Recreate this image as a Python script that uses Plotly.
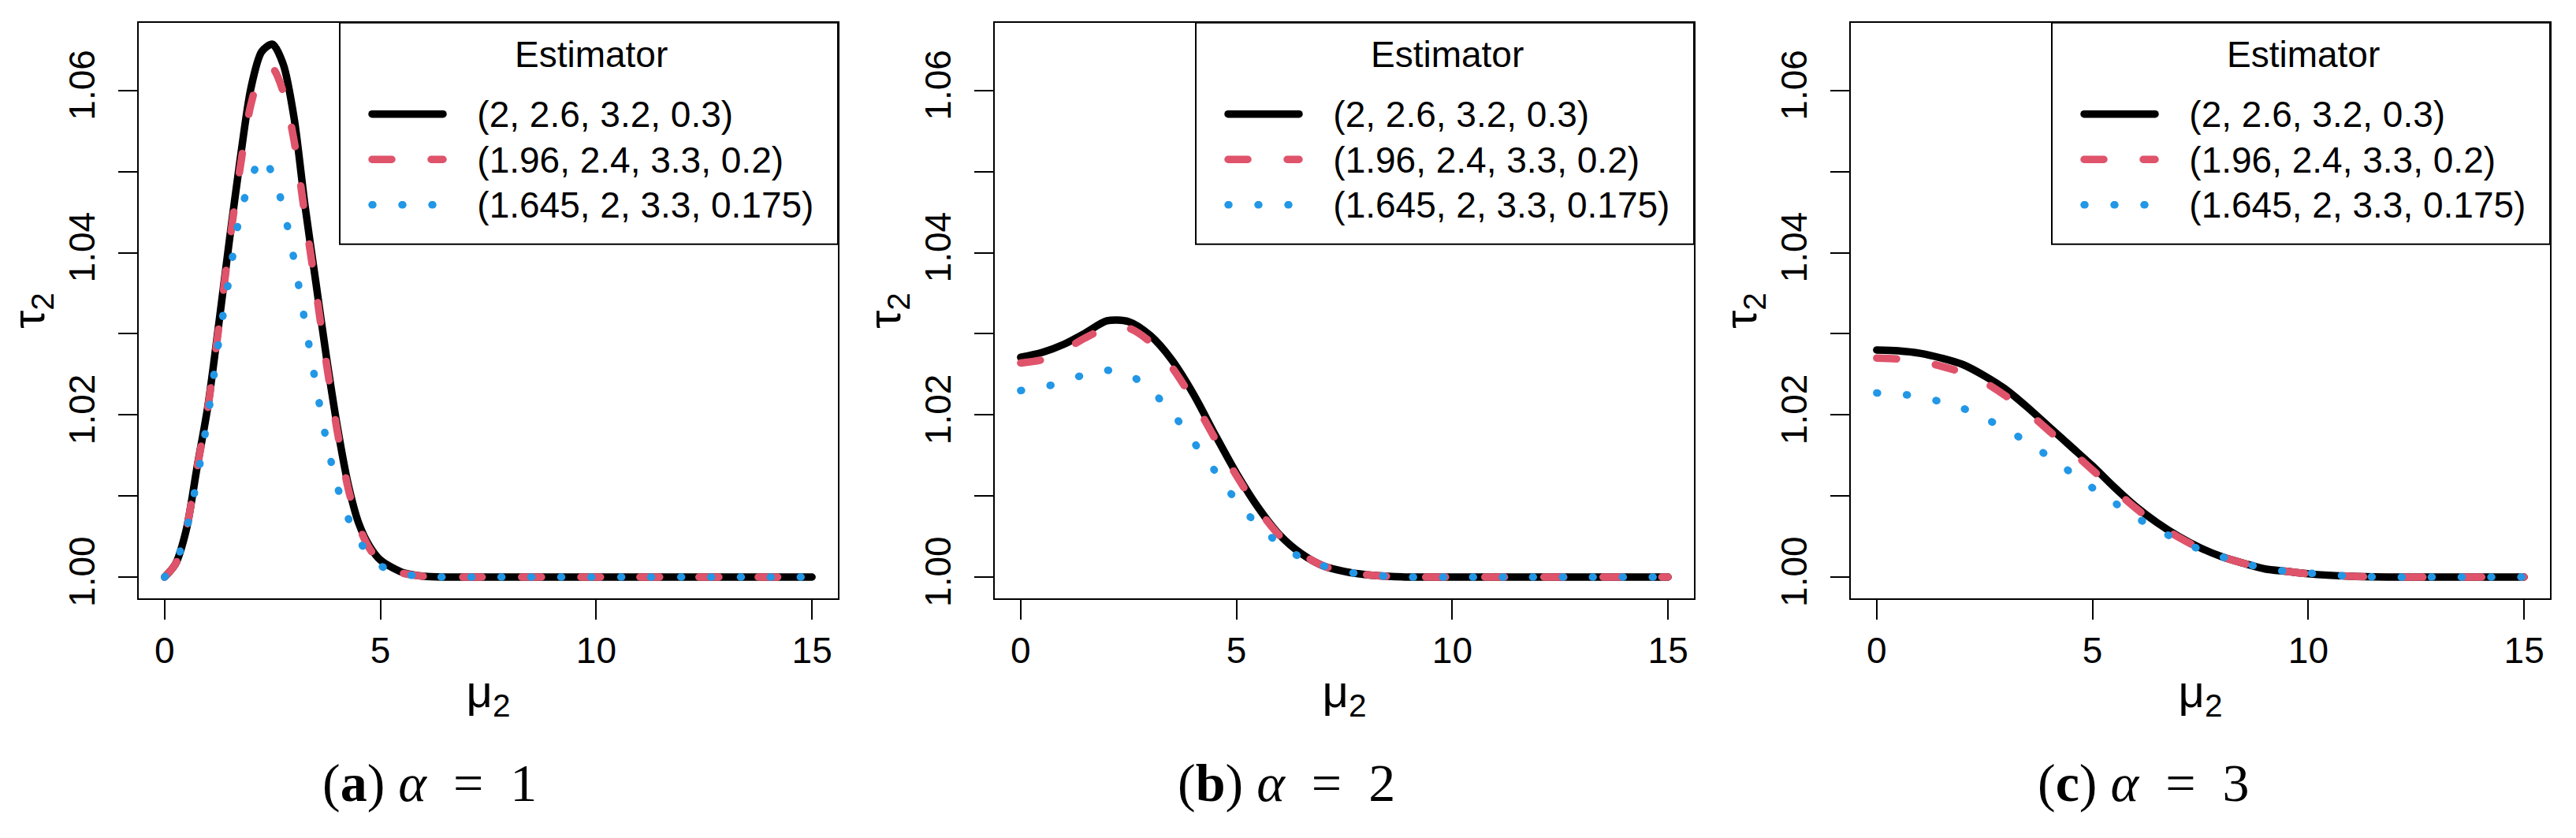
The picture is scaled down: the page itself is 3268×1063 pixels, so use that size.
import plotly.graph_objects as go

# ---------------- data ----------------
mu_a = [0, 0.25, 0.5, 0.75, 1.0, 1.25, 1.5, 1.75, 2.0, 2.25, 2.5, 2.75, 3.0, 3.25,
        3.5, 3.75, 4.0, 4.25, 4.5, 4.75, 5.0, 5.5, 6.0, 6.5, 7, 8, 9, 10, 11, 12, 13, 14, 15]
mu_bc = [0, 0.5, 1.0, 1.5, 2.0, 2.5, 3.0, 3.5, 4.0, 4.5, 5.0, 5.5, 6.0, 6.5, 7.0, 7.5,
         8.0, 8.5, 9.0, 9.5, 10, 11, 12, 13, 14, 15]

# panel (a) alpha = 1
a_black = [1.0000, 1.0016, 1.0058, 1.0135, 1.0210, 1.0310, 1.0415, 1.0515, 1.0603, 1.0648,
           1.0657, 1.0632, 1.0566, 1.0459, 1.0365, 1.0271, 1.0186, 1.0115, 1.0066, 1.0038,
           1.0021, 1.0006, 1.0001, 1.0000, 1.0000, 1.0000, 1.0000, 1.0000, 1.0000, 1.0000,
           1.0000, 1.0000, 1.0000]
a_red = [1.0000, 1.0016, 1.0058, 1.0134, 1.0208, 1.0306, 1.0410, 1.0505, 1.0583, 1.0622,
         1.0627, 1.0598, 1.0538, 1.0446, 1.0356, 1.0263, 1.0180, 1.0110, 1.0063, 1.0035,
         1.0019, 1.0005, 1.0001, 1.0000, 1.0000, 1.0000, 1.0000, 1.0000, 1.0000, 1.0000,
         1.0000, 1.0000, 1.0000]
a_blue = [1.0000, 1.0017, 1.0057, 1.0120, 1.0197, 1.0289, 1.0370, 1.0448, 1.0490, 1.0518,
          1.0497, 1.0455, 1.0391, 1.0315, 1.0239, 1.0168, 1.0112, 1.0073, 1.0046, 1.0026,
          1.0014, 1.0004, 1.0001, 1.0000, 1.0000, 1.0000, 1.0000, 1.0000, 1.0000, 1.0000,
          1.0000, 1.0000, 1.0000]

# panel (b) alpha = 2
b_black = [1.0271, 1.0277, 1.0287, 1.0301, 1.0316, 1.0315, 1.0298, 1.0268, 1.0226, 1.0176,
           1.0128, 1.0086, 1.0052, 1.0029, 1.0014, 1.0007, 1.0003, 1.0001, 1.0000, 1.0000,
           1.0000, 1.0000, 1.0000, 1.0000, 1.0000, 1.0000]
b_red = [1.0264, 1.0268, 1.0280, 1.0295, 1.0307, 1.0307, 1.0290, 1.0259, 1.0218, 1.0171,
         1.0125, 1.0084, 1.0051, 1.0029, 1.0014, 1.0007, 1.0003, 1.0001, 1.0000, 1.0000,
         1.0000, 1.0000, 1.0000, 1.0000, 1.0000, 1.0000]
b_blue = [1.0230, 1.0234, 1.0241, 1.0250, 1.0255, 1.0250, 1.0231, 1.0203, 1.0167, 1.0131,
          1.0094, 1.0064, 1.0041, 1.0024, 1.0014, 1.0007, 1.0003, 1.0001, 1.0000, 1.0000,
          1.0000, 1.0000, 1.0000, 1.0000, 1.0000, 1.0000]

# panel (c) alpha = 3
c_black = [1.0280, 1.0279, 1.0276, 1.0270, 1.0262, 1.0248, 1.0231, 1.0209, 1.0185, 1.0161,
           1.0137, 1.0111, 1.0087, 1.0067, 1.0050, 1.0036, 1.0025, 1.0017, 1.0010, 1.0007,
           1.0004, 1.0001, 1.0000, 1.0000, 1.0000, 1.0000]
c_red = [1.0270, 1.0269, 1.0266, 1.0260, 1.0252, 1.0240, 1.0223, 1.0203, 1.0180, 1.0156,
         1.0132, 1.0108, 1.0085, 1.0065, 1.0049, 1.0035, 1.0025, 1.0017, 1.0011, 1.0007,
         1.0004, 1.0001, 1.0000, 1.0000, 1.0000, 1.0000]
c_blue = [1.0227, 1.0226, 1.0222, 1.0216, 1.0208, 1.0196, 1.0182, 1.0166, 1.0148, 1.0129,
          1.0110, 1.0092, 1.0074, 1.0059, 1.0045, 1.0034, 1.0025, 1.0017, 1.0011, 1.0007,
          1.0005, 1.0001, 1.0000, 1.0000, 1.0000, 1.0000]

series_names = ["(2, 2.6, 3.2, 0.3)", "(1.96, 2.4, 3.3, 0.2)", "(1.645, 2, 3.3, 0.175)"]
captions = ["(<b>a</b>)\u00a0<i>α</i>\u00a0\u00a0=\u00a0\u00a01",
            "(<b>b</b>)\u00a0<i>α</i>\u00a0\u00a0=\u00a0\u00a02",
            "(<b>c</b>)\u00a0<i>α</i>\u00a0\u00a0=\u00a0\u00a03"]
x_ticks = [0, 5, 10, 15]
y_ticks = [1.00, 1.02, 1.04, 1.06]
y_minor = [1.01, 1.03, 1.05]
y_ticktext = ["1.00", "1.02", "1.04", "1.06"]
legend_title = "Estimator"
x_title = "μ<sub>2</sub>"
y_title = "τ<sub>2</sub>"

# ---------------- styling ----------------
W, H = 3268, 1063
SANS = "Liberation Sans, Arial, sans-serif"
SERIF = "Liberation Serif, Times New Roman, serif"
colors = ["#000000", "#DF536B", "#2297E6"]
dashes = ["solid", "25px,50px", "1px,37px"]
LW = 9.5
FS = 46          # visible text size
LEG_FS = 42      # legend row pitch driver

def px(x):
    return x / W

def py(y):
    return 1 - y / H

def legend_label(s):
    # zero-width space keeps the leading no-break spaces (gap between key and label)
    return f'<span style="font-size:{FS}px">\u200b\u00a0\u00a0\u00a0{s}</span>'

panel_left = [176, 1262, 2348]
panel_w = 887
box_top, box_bot = 29, 767

panels = [
    (mu_a, [a_black, a_red, a_blue]),
    (mu_bc, [b_black, b_red, b_blue]),
    (mu_bc, [c_black, c_red, c_blue]),
]

fig = go.Figure()
legend_keys = ["legend", "legend2", "legend3"]
for p, (xs, ys_list) in enumerate(panels):
    xa = "x" if p == 0 else f"x{p+1}"
    ya = "y" if p == 0 else f"y{p+1}"
    for k, ys in enumerate(ys_list):
        fig.add_trace(go.Scatter(
            x=xs, y=ys, mode="lines", name=legend_label(series_names[k]),
            line=dict(color=colors[k], width=LW, dash=dashes[k], shape="spline", smoothing=0.8),
            xaxis=xa, yaxis=ya, legend=legend_keys[p], showlegend=True,
            hoverinfo="skip",
        ))

layout = dict(
    width=W, height=H, autosize=False,
    margin=dict(l=0, r=0, t=0, b=0),
    paper_bgcolor="white", plot_bgcolor="white",
    showlegend=True,
    font=dict(family=SANS, size=FS, color="black"),
    shapes=[], annotations=[],
)

for p in range(3):
    sfx = "" if p == 0 else str(p + 1)
    L = panel_left[p]
    layout["xaxis" + sfx] = dict(
        domain=[px(L), px(L + panel_w)], anchor="y" + sfx,
        range=[-0.6, 15.6], tickmode="array", tickvals=x_ticks,
        ticks="outside", ticklen=25, tickwidth=2, tickcolor="black",
        showline=True, mirror=True, linecolor="black", linewidth=2,
        showgrid=False, zeroline=False,
        tickfont=dict(family=SANS, size=FS, color="black"),
        title=dict(text=x_title, standoff=6, font=dict(family=SANS, size=58, color="black")),
    )
    layout["yaxis" + sfx] = dict(
        domain=[py(box_bot), py(box_top)], anchor="x" + sfx,
        range=[0.99737, 1.06837], tickmode="array", tickvals=y_ticks, ticktext=y_ticktext,
        tickangle=-90, ticklabelstandoff=12,
        ticks="outside", ticklen=24, tickwidth=2, tickcolor="black",
        minor=dict(tickmode="array", tickvals=y_minor, ticks="outside", ticklen=24,
                   tickwidth=2, tickcolor="black", showgrid=False),
        showline=True, mirror=True, linecolor="black", linewidth=2,
        showgrid=False, zeroline=False,
        tickfont=dict(family=SANS, size=FS, color="black"),
        title=dict(text=y_title, standoff=2, font=dict(family=SANS, size=58, color="black")),
    )
    # legend frame
    layout["shapes"].append(dict(
        type="rect", xref="paper", yref="paper",
        x0=px(L + 255), x1=px(L + panel_w), y0=py(313), y1=py(box_top),
        line=dict(color="black", width=2), fillcolor="rgba(0,0,0,0)", layer="above",
    ))
    layout[legend_keys[p]] = dict(
        x=px(L + 291), y=py(112), xanchor="left", yanchor="top",
        bgcolor="rgba(0,0,0,0)", borderwidth=0,
        font=dict(family=SANS, size=LEG_FS, color="black"),
        itemwidth=90, tracegroupgap=0, itemclick=False, itemdoubleclick=False,
    )
    # legend title
    layout["annotations"].append(dict(
        text=legend_title, xref="paper", yref="paper", x=px(L + 574), y=py(70),
        xanchor="center", yanchor="middle", showarrow=False,
        font=dict(family=SANS, size=FS, color="black"),
    ))
    # sub-figure caption
    layout["annotations"].append(dict(
        text=captions[p], xref="paper", yref="paper", x=px(545 + 1087 * p), y=py(1003),
        xanchor="center", yanchor="middle", showarrow=False,
        font=dict(family=SERIF, size=68, color="black"),
    ))

fig.update_layout(**layout)

post = ("var s=document.createElement('style');"
        "s.textContent='body{margin:0}.js-line{stroke-linecap:round;stroke-linejoin:round}';"
        "document.head.appendChild(s);")
fig.write_html("out.html", post_script=post, config={"displayModeBar": False})
